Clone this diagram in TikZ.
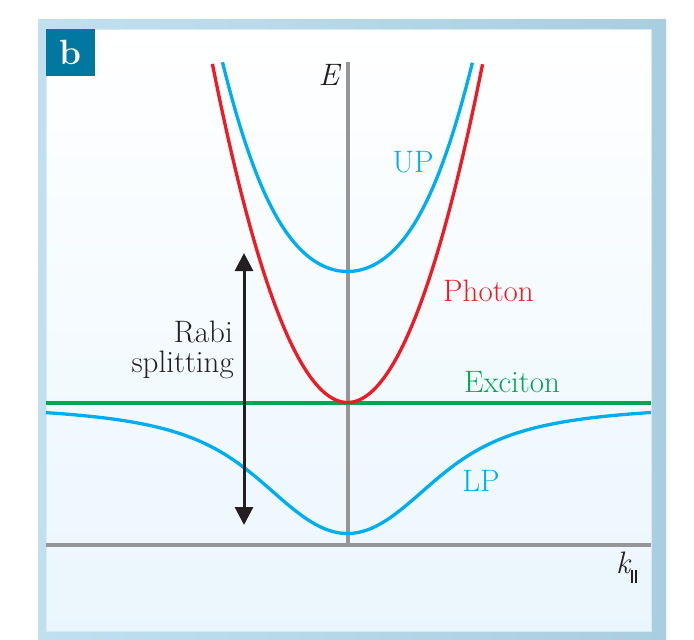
\documentclass[tikz,border=0pt]{standalone}
\usetikzlibrary{arrows.meta}
\definecolor{cblue}{RGB}{0,174,239}
\definecolor{cred}{RGB}{237,28,36}
\definecolor{cgreen}{RGB}{0,166,81}
\definecolor{axgray}{RGB}{150,150,152}
\definecolor{frameblue}{RGB}{169,206,224}
\definecolor{framelight}{RGB}{192,224,240}
\definecolor{panelbot}{RGB}{234,246,253}
\definecolor{paneledge}{RGB}{216,235,245}
\definecolor{tagblue}{RGB}{0,120,160}
\definecolor{arrowblack}{RGB}{35,31,32}
\begin{document}
\begin{tikzpicture}[x=1pt,y=-1pt,
  declare function={ec(\k)=1.855*\k*\k;
    upb(\k)=ec(\k)/2+sqrt(ec(\k)*ec(\k)/4+1.7161);
    lpb(\k)=ec(\k)/2-sqrt(ec(\k)*ec(\k)/4+1.7161);},
  curve/.style={line width=3.3pt},
  axis/.style={axgray, line width=4pt},
  lbl/.style={font=\fontsize{31}{33}\selectfont, inner sep=0pt},
  rabiarrow/.style={arrowblack, line width=3pt,
    {Triangle[width=18pt,length=18pt]}-{Triangle[width=18pt,length=18pt]}},
]
\useasboundingbox (0,0) rectangle (694,640);
% frame
\shade[left color=framelight, right color=frameblue] (38,19) rectangle (666,640);
\shade[top color=white, bottom color=panelbot, draw=paneledge, line width=1pt] (46,29) rectangle (651,631);
% tag
\node[fill=tagblue, text=white, minimum width=49pt, minimum height=47pt, anchor=north west, inner sep=0pt,
  font=\fontsize{35}{35}\selectfont\bfseries] (tag) at (46,29) {b};
% axes
\coordinate (xl) at (46,545);
\coordinate (xr) at (651,545);
\coordinate (yb) at (348,545);
\coordinate (yt) at (348,62);
\draw[axis] (xl) -- (xr);
\draw[axis] (yb) -- (yt);
% exciton
\coordinate (el) at (46,402.5);
\coordinate (er) at (651,402.5);
\draw[cgreen, line width=4pt] (el) -- (er);
% photon
\draw[cred, curve] plot[smooth, domain=-1.351:1.351, samples=80] ({347.5+100*\x},{402.5-100*ec(\x)});
% UP
\draw[cblue, curve] plot[smooth, domain=-1.25:1.25, samples=80] ({347.5+100*\x},{402.5-100*upb(\x)});
% LP
\draw[cblue, curve] plot[smooth, domain=-3.015:3.035, samples=120] ({347.5+100*\x},{402.5-100*lpb(\x)});
% Rabi arrow
\coordinate (rt) at (244,253);
\coordinate (rb) at (244,525);
\draw[rabiarrow] (rt) -- (rb);
% labels
\node[lbl, anchor=base east, text=arrowblack] (rabi1) at (233,342) {Rabi};
\node[lbl, anchor=base east, text=arrowblack] (rabi2) at (234,372) {splitting};
\node[lbl, anchor=base, text=cblue] (uplbl) at (413,172) {UP};
\node[lbl, anchor=base, text=cred] (phlbl) at (488.5,301) {Photon};
\node[lbl, anchor=base, text=cgreen] (exlbl) at (512,392) {Exciton};
\node[lbl, anchor=base, text=cblue] (lplbl) at (481,491) {LP};
\node[lbl, anchor=base, text=arrowblack] (elbl) at (329,85) {\itshape E};
\node[lbl, anchor=base west, text=arrowblack] (klbl) at (616,573)
  {\itshape k\hspace{1pt}\raisebox{-10pt}{\rule{1.4pt}{13pt}\hspace{2.6pt}\rule{1.4pt}{13pt}}};
\end{tikzpicture}
\end{document}
